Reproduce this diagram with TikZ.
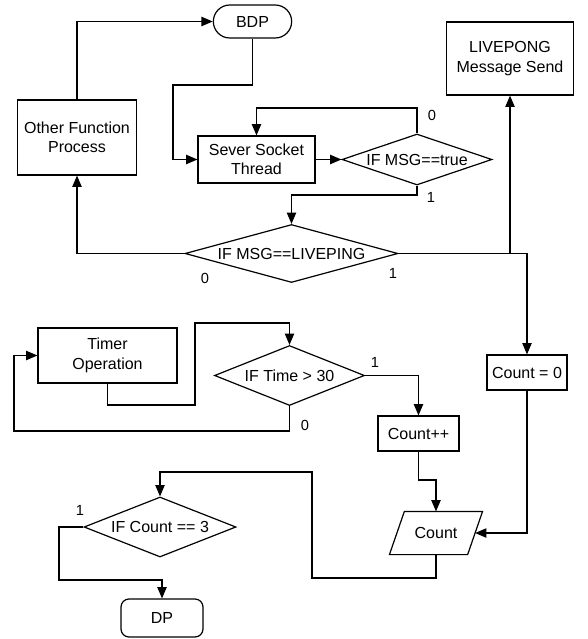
\documentclass[tikz,border=0pt]{standalone}
\usepackage{fontspec}
\setmainfont{Liberation Sans}
\usetikzlibrary{arrows.meta,shapes.geometric,shapes.misc}
\begin{document}
\begin{tikzpicture}[x=0.75pt,y=-0.75pt,
  line width=0.9pt,
  every node/.style={font=\fontsize{12}{14.5}\selectfont},
  box/.style={draw,rectangle,align=center,inner sep=1pt},
  decision/.style={draw,diamond,inner sep=1pt},
  terminal/.style={draw,rounded rectangle,inner sep=1pt},
  arr/.style={-{Triangle[length=8.5pt,width=7pt]}},
  branch/.style={font=\fontsize{11}{13}\selectfont,inner sep=0pt}]
\useasboundingbox (0,0) rectangle (587,639);

% ---- process blocks ----
\node[terminal,minimum width=60.75pt,minimum height=24.75pt] (bdp) at (252.5,21.5) {BDP};
\node[box,minimum width=89.25pt,minimum height=56.25pt] (ofp) at (77,137.5) {Other Function\\Process};
\node[box,minimum width=87.75pt,minimum height=35.25pt] (sst) at (256.5,159.5) {Sever Socket\\Thread};
\node[decision,aspect=2.9,minimum width=112.5pt,minimum height=38.25pt] (ifmsg) at (417,159.5) {IF MSG==true};
\node[decision,aspect=3.6,minimum width=159.75pt,minimum height=43.5pt] (live) at (291.5,253.5) {IF MSG==LIVEPING};
\node[box,minimum width=95.25pt,minimum height=54.75pt] (pong) at (510,58.5) {LIVEPONG\\Message Send};
\node[box,minimum width=60pt,minimum height=26.25pt] (cz) at (527,372.5) {Count = 0};
\node[box,minimum width=104.25pt,minimum height=41.25pt] (timer) at (107.5,355.5) {Timer\\Operation};
\node[decision,aspect=2.5,minimum width=112.5pt,minimum height=45pt] (iftime) at (289.5,375.5) {IF Time > 30};
\node[box,minimum width=60.75pt,minimum height=26.25pt] (cpp) at (418.5,433.5) {Count++};
\node[rectangle,minimum width=57.75pt,minimum height=31.5pt,inner sep=0pt] (cnt) at (436,533) {Count};
\draw ([xshift=5.6pt]cnt.north west) -- ([xshift=5.6pt]cnt.north east)
  -- ([xshift=-5.6pt]cnt.south east) -- ([xshift=-5.6pt]cnt.south west) -- cycle;
\node[decision,aspect=2.5,minimum width=114pt,minimum height=45pt] (ifcnt) at (160,527) {IF Count == 3};
\node[box,rounded corners=6pt,minimum width=61.5pt,minimum height=28.5pt] (dp) at (162,618) {DP};

% ---- connectors ----
\draw[arr] (ofp.north) |- (bdp.west);
\draw[arr] (bdp.south) -- (bdp.south |- 0,85) -| (173,120) |- (sst.west);
\draw[arr] (sst.east) -- (ifmsg.west);
\draw[arr] (ifmsg.north) |- (sst.north |- 0,108) -- (sst.north);
\draw[arr] (ifmsg.south) -- (ifmsg.south |- 0,195) -| (live.north);
\draw[arr] (live.west) -| (ofp.south);
\draw[arr] (live.east) -| (pong.south);
\draw[arr] (live.east) -| (cz.north);
\draw[arr] (timer.south) |- (195,405) |- (iftime.north |- 0,323) -- (iftime.north);
\draw[arr] (iftime.south) |- (14,431) |- (timer.west);
\draw[arr] (iftime.east) -| (cpp.north);
\draw[arr] (cpp.south) -- (cpp.south |- 0,480) -| (cnt.north);
\draw[arr] (cz.south) |- (cnt.east);
\draw[arr] (cnt.south) |- (312,578) |- (ifcnt.north |- 0,472) -- (ifcnt.north);
\draw[arr] (ifcnt.west) -| (59,580) -| (dp.north);

% ---- branch labels ----
\node[branch] (l0a) at (432,115) {0};
\node[branch] (l1a) at (431,197) {1};
\node[branch] (l0b) at (205,278) {0};
\node[branch] (l1b) at (393,273) {1};
\node[branch] (l1c) at (375,362) {1};
\node[branch] (l0c) at (305,425) {0};
\node[branch] (l1d) at (80,510) {1};
\end{tikzpicture}
\end{document}
